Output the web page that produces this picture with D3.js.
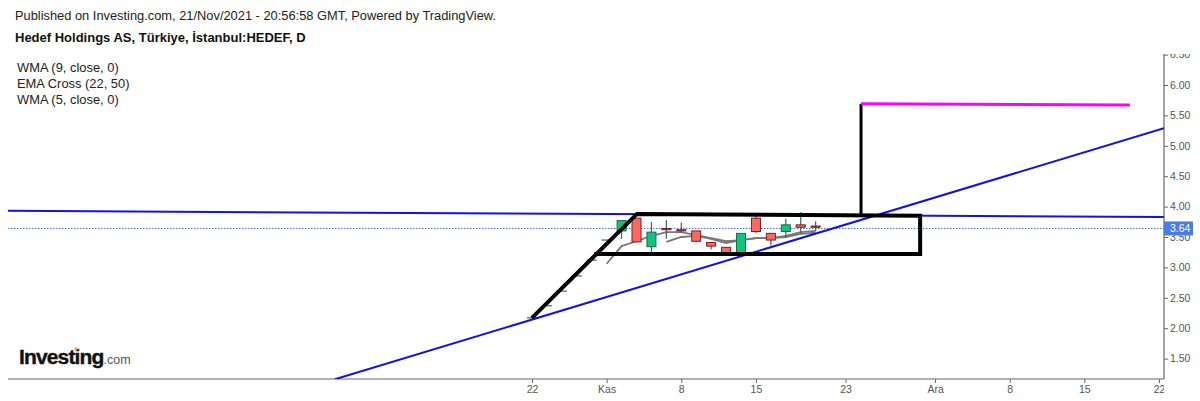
<!DOCTYPE html>
<html>
<head>
<meta charset="utf-8">
<script src="https://d3js.org/d3.v7.min.js"></script>
<style>
  html, body { margin: 0; background: #fff; }
  svg { display: block; font-family: "Liberation Sans", Arial, sans-serif; }
</style>
</head>
<body>
<div id="chart"></div>
<script>
// bars are counted in trading sessions from 22 Oct 2021
const xTickBars = [0, 5, 10, 15, 21, 27, 32, 37, 42];
const xTickLabels = ['22', 'Kas', '8', '15', '23', 'Ara', '8', '15', '22'];
const yTicks = [1.5, 2, 2.5, 3, 3.5, 4, 4.5, 5, 5.5, 6, 6.5];

const flatBars = [0, 1, 2, 3, 4, 5];
const flatPrices = [2.17, 2.37, 2.61, 2.86, 3.12, 3.45];

const candleBars = [6, 7, 8, 9, 10, 11, 12, 13, 14, 15, 16, 17, 18, 19];
const opens = [3.60, 3.81, 3.34, 3.64, 3.62, 3.60, 3.41, 3.33, 3.24, 3.81, 3.56, 3.59, 3.70, 3.68];
const highs = [3.77, 3.81, 3.75, 3.78, 3.74, 3.60, 3.41, 3.33, 3.56, 3.86, 3.56, 3.80, 3.91, 3.76];
const lows = [3.47, 3.42, 3.22, 3.47, 3.57, 3.43, 3.30, 3.24, 3.20, 3.56, 3.36, 3.49, 3.56, 3.60];
const closes = [3.77, 3.42, 3.58, 3.62, 3.60, 3.43, 3.35, 3.24, 3.56, 3.59, 3.45, 3.70, 3.66, 3.66];

const wmaBars = [5, 6, 7, 8, 9, 10, 11, 12, 13, 14, 15, 16, 17, 18, 19];
const wmaValues = [3.06, 3.35, 3.43, 3.52, 3.58, 3.58, 3.53, 3.48, 3.43, 3.45, 3.48, 3.48, 3.52, 3.58, 3.60];
const emaBars = [9, 10, 11, 12, 13, 14, 15, 16, 17, 18, 19];
const emaValues = [3.42, 3.50, 3.52, 3.47, 3.40, 3.45, 3.48, 3.48, 3.50, 3.55, 3.57];

const blueFlat = [[-35.1, 3.93], [42.33, 3.83]];
const blueRising = [[-13.2, 1.16], [42.33, 5.29]];
const blackChannel = [[0, 2.17], [7.03, 3.88], [26, 3.85], [26, 3.22], [4.15, 3.22]];
const blackTarget = [[22.04, 3.88], [22.04, 5.69]];
const magentaTarget = [[22.04, 5.69], [40.05, 5.67]];

const lastPrice = 3.64;
const legendLines = ['WMA (9, close, 0)', 'EMA Cross (22, 50)', 'WMA (5, close, 0)'];

const width = 1200;
const height = 401;
const plot = { left: 8, right: 1164, top: 54, bottom: 379 };

const x = d3.scaleLinear().domain([0, 42]).range([532, 1159]);
const y = d3.scaleLinear().domain([1.5, 6]).range([358.6, 85]);

const svg = d3.select('#chart')
  .append('svg')
    .attr('width', width)
    .attr('height', height)
    .attr('viewBox', `0 0 ${width} ${height}`);

svg.append('rect')
  .attr('width', width)
  .attr('height', height)
  .attr('fill', '#fff');

const defs = svg.append('defs');
defs.append('clipPath').attr('id', 'plot-clip')
  .append('rect')
    .attr('x', plot.left)
    .attr('y', plot.top)
    .attr('width', plot.right - plot.left)
    .attr('height', plot.bottom - plot.top);
defs.append('clipPath').attr('id', 'x-clip')
  .append('rect')
    .attr('x', plot.left)
    .attr('y', plot.bottom)
    .attr('width', plot.right - plot.left)
    .attr('height', height - plot.bottom);
defs.append('clipPath').attr('id', 'y-clip')
  .append('rect')
    .attr('x', plot.right - 1)
    .attr('y', plot.top)
    .attr('width', width - plot.right)
    .attr('height', plot.bottom - plot.top);

// axes
const xAxis = svg.append('g')
  .attr('clip-path', 'url(#x-clip)')
  .append('g')
    .attr('transform', `translate(0, ${plot.bottom})`)
    .call(d3.axisBottom(x)
      .tickValues(xTickBars)
      .tickFormat((d, i) => xTickLabels[i])
      .tickSize(4)
      .tickSizeOuter(0));

const yAxis = svg.append('g')
  .attr('clip-path', 'url(#y-clip)')
  .append('g')
    .attr('transform', `translate(${plot.right}, 0)`)
    .call(d3.axisRight(y)
      .tickValues(yTicks)
      .tickFormat(d3.format('.2f'))
      .tickSize(4)
      .tickSizeOuter(0));

[xAxis, yAxis].forEach(axis => {
  axis.selectAll('text')
    .attr('font-family', '"Liberation Sans", Arial, sans-serif')
    .attr('font-size', 10.5)
    .attr('fill', '#555');
  axis.selectAll('line').attr('stroke', '#666');
  axis.select('.domain').remove();
});
xAxis.selectAll('text').attr('dy', '0.75em').attr('y', 6);
yAxis.selectAll('text').attr('x', 6);

svg.append('line')
  .attr('x1', plot.left)
  .attr('x2', plot.right)
  .attr('y1', plot.bottom)
  .attr('y2', plot.bottom)
  .attr('stroke', '#666')
  .attr('stroke-width', 1.2);
svg.append('line')
  .attr('x1', plot.right)
  .attr('x2', plot.right)
  .attr('y1', plot.top)
  .attr('y2', plot.bottom)
  .attr('stroke', '#666')
  .attr('stroke-width', 1.2);

const chart = svg.append('g').attr('clip-path', 'url(#plot-clip)');
const segment = d3.line().x(d => x(d[0])).y(d => y(d[1]));

// last price
chart.append('line')
  .attr('x1', plot.left)
  .attr('x2', plot.right)
  .attr('y1', y(lastPrice))
  .attr('y2', y(lastPrice))
  .attr('stroke', '#3f6fd8')
  .attr('stroke-dasharray', '1.5 1.5');

// moving averages
[[wmaBars, wmaValues], [emaBars, emaValues]].forEach(([bars, values]) => {
  chart.append('path')
    .attr('d', segment(bars.map((b, i) => [b, values[i]])))
    .attr('fill', 'none')
    .attr('stroke', '#777')
    .attr('stroke-width', 1.8);
});

// flat sessions before the breakout
chart.selectAll('.flat')
  .data(flatBars)
  .enter().append('line')
    .attr('class', 'flat')
    .attr('x1', d => x(d) - 5)
    .attr('x2', d => x(d) + 5)
    .attr('y1', (d, i) => y(flatPrices[i]))
    .attr('y2', (d, i) => y(flatPrices[i]))
    .attr('stroke', '#2f6b55')
    .attr('stroke-width', 1.2);

// candles
const candles = chart.selectAll('.candle')
  .data(candleBars)
  .enter().append('g')
    .attr('class', 'candle');

candles.append('line')
  .attr('x1', d => x(d))
  .attr('x2', d => x(d))
  .attr('y1', (d, i) => y(highs[i]))
  .attr('y2', (d, i) => y(lows[i]))
  .attr('stroke', '#2f6b55')
  .attr('stroke-width', 1.2);

candles.append('rect')
  .attr('x', d => x(d) - 4.5)
  .attr('width', 9)
  .attr('y', (d, i) => y(Math.max(opens[i], closes[i])))
  .attr('height', (d, i) => Math.abs(y(opens[i]) - y(closes[i])))
  .attr('fill', (d, i) => closes[i] > opens[i] ? '#0fc47b' : '#fb6a62')
  .attr('stroke', (d, i) => closes[i] > opens[i] ? '#1c6b4a' : '#7d1c1c')
  .attr('stroke-width', 1);

// drawings
chart.append('path')
  .attr('d', segment(blueFlat))
  .attr('fill', 'none')
  .attr('stroke', '#1010f0')
  .attr('stroke-width', 2);
chart.append('path')
  .attr('d', segment(blueRising))
  .attr('fill', 'none')
  .attr('stroke', '#1010f0')
  .attr('stroke-width', 2);
chart.append('path')
  .attr('d', segment(blackChannel))
  .attr('fill', 'none')
  .attr('stroke', '#000')
  .attr('stroke-width', 4);
chart.append('path')
  .attr('d', segment(blackTarget))
  .attr('fill', 'none')
  .attr('stroke', '#000')
  .attr('stroke-width', 3);
chart.append('path')
  .attr('d', segment(magentaTarget))
  .attr('fill', 'none')
  .attr('stroke', '#f0f')
  .attr('stroke-width', 3);

// last price label
svg.append('rect')
  .attr('x', plot.right)
  .attr('y', y(lastPrice) - 7)
  .attr('width', 29)
  .attr('height', 14)
  .attr('fill', '#4a7be0');
svg.append('text')
  .attr('x', plot.right + 6)
  .attr('y', y(lastPrice) + 4)
  .attr('font-size', 10.5)
  .attr('fill', '#fff')
  .text(d3.format('.2f')(lastPrice));

// header
svg.append('text')
  .attr('x', 15)
  .attr('y', 20)
  .attr('font-size', 12.85)
  .attr('fill', '#222')
  .text('Published on Investing.com, 21/Nov/2021 - 20:56:58 GMT, Powered by TradingView.');
svg.append('text')
  .attr('x', 15)
  .attr('y', 42)
  .attr('font-size', 13)
  .attr('font-weight', 'bold')
  .attr('fill', '#111')
  .text('Hedef Holdings AS, Türkiye, İstanbul:HEDEF, D');

svg.selectAll('.legend')
  .data(legendLines)
  .enter().append('text')
    .attr('class', 'legend')
    .attr('x', 17)
    .attr('y', (d, i) => 72 + i * 16)
    .attr('font-size', 12.9)
    .attr('fill', '#222')
    .text(d => d);

// logo
const logo = svg.append('text')
  .attr('x', 19)
  .attr('y', 364);
logo.append('tspan')
  .attr('font-size', 21)
  .attr('font-weight', 'bold')
  .attr('letter-spacing', -0.85)
  .attr('fill', '#111')
  .attr('stroke', '#111')
  .attr('stroke-width', 0.4)
  .text('Investing');
logo.append('tspan')
  .attr('font-size', 12.5)
  .attr('fill', '#555')
  .text('.com');
svg.append('circle')
  .attr('cx', 76)
  .attr('cy', 349)
  .attr('r', 1.7)
  .attr('fill', '#f5a623');
</script>
</body>
</html>
